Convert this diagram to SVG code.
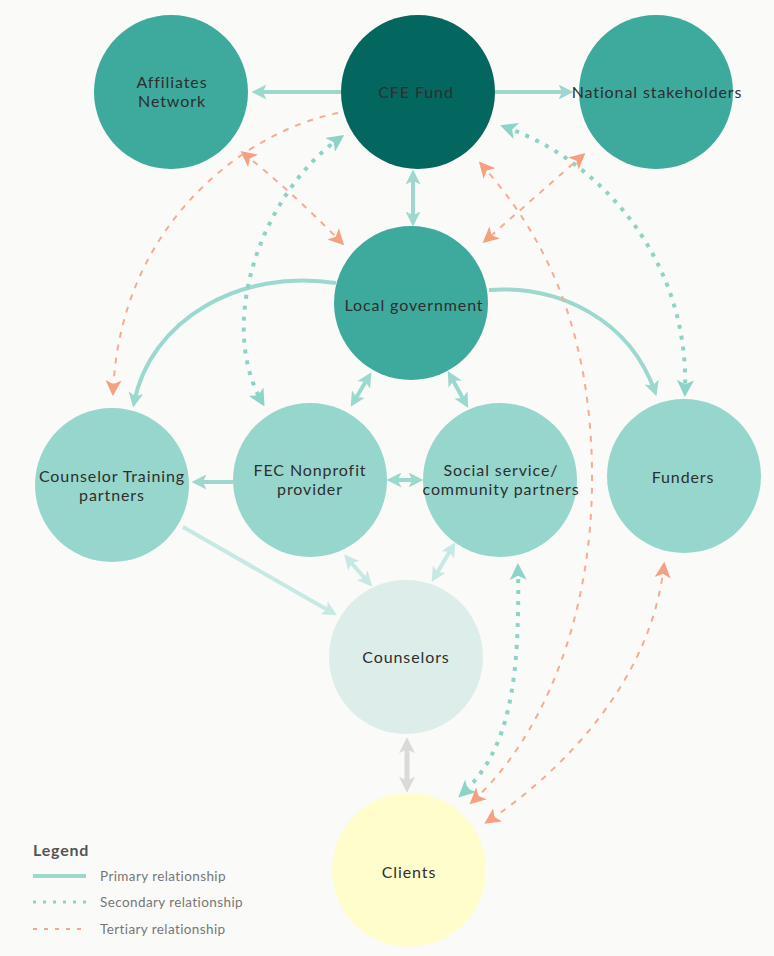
<svg xmlns="http://www.w3.org/2000/svg" width="774" height="956" viewBox="0 0 774 956">
<style>
.bg{fill:#FAFAF8}
.lbl{font-family:Lato,"Open Sans","Liberation Sans",sans-serif;font-size:16px;letter-spacing:0.9px;fill:#2e2e2e;text-anchor:middle}
.pri{fill:none;stroke:#9DD8CF;stroke-width:4}
.pril{fill:none;stroke:#C6E9E3;stroke-width:4}
.gry{fill:none;stroke:#DADADA;stroke-width:5}
.sec{fill:none;stroke:#8ED3C8;stroke-width:4;stroke-dasharray:4 7}
.ter{fill:none;stroke:#F5AC90;stroke-width:2;stroke-dasharray:6 7}
.leg{font-family:Lato,"Open Sans","Liberation Sans",sans-serif;font-size:13.5px;letter-spacing:0.4px;fill:#777}
.legt{font-family:Lato,"Open Sans","Liberation Sans",sans-serif;font-size:16px;font-weight:700;fill:#555;letter-spacing:0.8px}
</style>
<defs>
<marker id="ap" viewBox="0 0 10 10" refX="7" refY="5" markerWidth="15" markerHeight="15" markerUnits="userSpaceOnUse" orient="auto-start-reverse"><path d="M0,0 L10,5 L0,10 L2.5,5 z" fill="#9DD8CF"/></marker>
<marker id="apl" viewBox="0 0 10 10" refX="7" refY="5" markerWidth="15" markerHeight="15" markerUnits="userSpaceOnUse" orient="auto-start-reverse"><path d="M0,0 L10,5 L0,10 L2.5,5 z" fill="#C6E9E3"/></marker>
<marker id="ag" viewBox="0 0 10 10" refX="7" refY="5" markerWidth="16" markerHeight="16" markerUnits="userSpaceOnUse" orient="auto-start-reverse"><path d="M0,0 L10,5 L0,10 L2.5,5 z" fill="#DADADA"/></marker>
<marker id="as" viewBox="0 0 10 10" refX="7" refY="5" markerWidth="17" markerHeight="17" markerUnits="userSpaceOnUse" orient="auto-start-reverse"><path d="M0,0 L10,5 L0,10 L2.5,5 z" fill="#8ED3C8"/></marker>
<marker id="at" viewBox="0 0 10 10" refX="8" refY="5" markerWidth="16" markerHeight="16" markerUnits="userSpaceOnUse" orient="auto-start-reverse"><path d="M0,0 L10,5 L0,10 L2.5,5 z" fill="#F5A080"/></marker>
</defs>
<rect class="bg" x="0" y="0" width="774" height="956"/>
<g id="connectors">
<path class="pri" d="M341,92 L256,92" marker-end="url(#ap)"/>
<path class="pri" d="M495,92 L569,92" marker-end="url(#ap)"/>
<path class="pri" d="M413,174 L413,222" marker-start="url(#ap)" marker-end="url(#ap)"/>
<path class="pri" d="M336,283 C 240,268 150,320 134,403" marker-end="url(#ap)"/>
<path class="pri" d="M489,290 C 560,285 630,320 655,392" marker-end="url(#ap)"/>
<path class="pri" d="M369,376 L353,403" marker-start="url(#ap)" marker-end="url(#ap)"/>
<path class="pri" d="M450,375 L466,404" marker-start="url(#ap)" marker-end="url(#ap)"/>
<path class="pri" d="M233,482 L196,482" marker-end="url(#ap)"/>
<path class="pri" d="M391,480 L419,480" marker-start="url(#ap)" marker-end="url(#ap)"/>
<path class="pril" d="M183,527 L333,613" marker-end="url(#apl)"/>
<path class="pril" d="M347,558 L369,583" marker-start="url(#apl)" marker-end="url(#apl)"/>
<path class="pril" d="M453,546 L434,578" marker-start="url(#apl)" marker-end="url(#apl)"/>
<path class="gry" d="M407,742 L407,788" marker-start="url(#ag)" marker-end="url(#ag)"/>
<path class="sec" d="M340,138 C 265,190 215,320 262,402" marker-start="url(#as)" marker-end="url(#as)"/>
<path class="sec" d="M505,127 C 600,160 690,260 685,392" marker-start="url(#as)" marker-end="url(#as)"/>
<path class="sec" d="M518,568 C 520,680 510,750 462,794" marker-start="url(#as)" marker-end="url(#as)"/>
<path class="ter" d="M243,153 Q 290,190 342,243" marker-start="url(#at)" marker-end="url(#at)"/>
<path class="ter" d="M583,155 L485,241" marker-start="url(#at)" marker-end="url(#at)"/>
<path class="ter" d="M338,113 C 250,130 120,220 113,393" marker-end="url(#at)"/>
<path class="ter" d="M481,164 C 540,230 590,320 592,470 C 594,620 540,740 472,802" marker-start="url(#at)" marker-end="url(#at)"/>
<path class="ter" d="M664,565 C 650,690 550,780 487,822" marker-start="url(#at)" marker-end="url(#at)"/>
</g>
<g id="node-affiliates"><circle cx="171" cy="92" r="77" fill="#3DAA9D"/><text class="lbl" x="172" y="87.5">Affiliates</text><text class="lbl" x="172" y="107">Network</text></g>
<g id="node-cfe"><circle cx="418" cy="92" r="77" fill="#04675F"/><text class="lbl" x="416" y="98">CFE Fund</text></g>
<g id="node-national"><circle cx="656" cy="92" r="77" fill="#3DAA9D"/><text class="lbl" x="657" y="98">National stakeholders</text></g>
<g id="node-local"><circle cx="411" cy="303" r="77" fill="#3DAA9D"/><text class="lbl" x="414" y="311">Local government</text></g>
<g id="node-training"><circle cx="112" cy="485" r="77" fill="#97D6CC"/><text class="lbl" x="112" y="481.5">Counselor Training</text><text class="lbl" x="112" y="501">partners</text></g>
<g id="node-fec"><circle cx="310" cy="480" r="77" fill="#97D6CC"/><text class="lbl" x="310" y="475.5">FEC Nonprofit</text><text class="lbl" x="310" y="495">provider</text></g>
<g id="node-social"><circle cx="500" cy="480" r="77" fill="#97D6CC"/><text class="lbl" x="501" y="475.5">Social service/</text><text class="lbl" x="501" y="495">community partners</text></g>
<g id="node-funders"><circle cx="684" cy="476" r="77" fill="#97D6CC"/><text class="lbl" x="683" y="483">Funders</text></g>
<g id="node-counselors"><circle cx="406" cy="657" r="77" fill="#DDEDEA"/><text class="lbl" x="406" y="663">Counselors</text></g>
<g id="node-clients"><circle cx="409" cy="870" r="77" fill="#FFFDCC"/><text class="lbl" x="409" y="878">Clients</text></g>
<g id="legend">
<text class="legt" x="33" y="856">Legend</text>
<line x1="33" y1="876" x2="86" y2="876" stroke="#9DD8CF" stroke-width="4"/>
<text class="leg" x="100" y="881">Primary relationship</text>
<line x1="33" y1="902" x2="86" y2="902" stroke="#8ED3C8" stroke-width="3" stroke-dasharray="3 7"/>
<text class="leg" x="100" y="907">Secondary relationship</text>
<line x1="33" y1="929" x2="86" y2="929" stroke="#F5A889" stroke-width="2" stroke-dasharray="4 7"/>
<text class="leg" x="100" y="934">Tertiary relationship</text>
</g>
</svg>
